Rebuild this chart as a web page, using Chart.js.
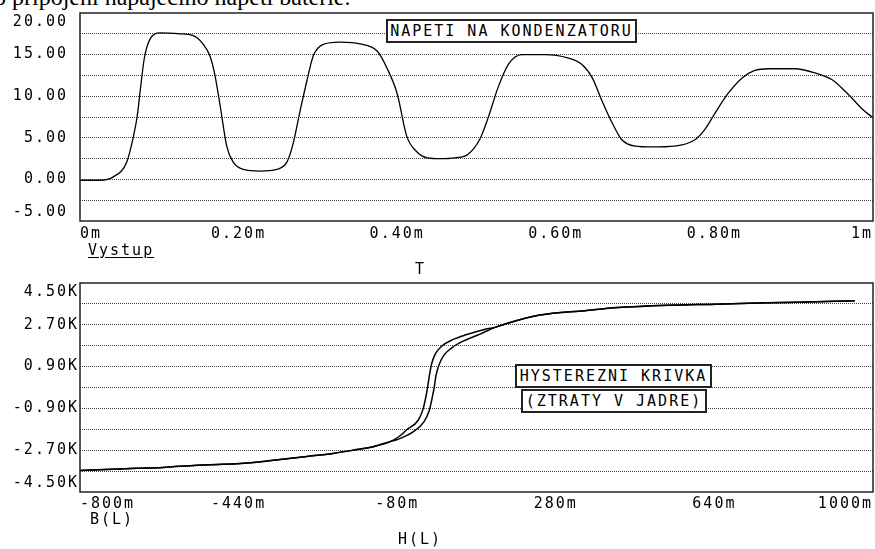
<!DOCTYPE html>
<html lang="cs">
<head>
<meta charset="utf-8">
<title>Napeti na kondenzatoru, hysterezni krivka</title>
<script src="https://cdn.jsdelivr.net/npm/chart.js@4.4.1/dist/chart.umd.min.js"></script>
<style>
    html, body { margin: 0; padding: 0; background: #fff; }
    body {
        width: 875px; height: 549px; position: relative; overflow: hidden;
        font-family: 'DejaVu Sans Mono', monospace; font-size: 15px; color: #000;
    }
    canvas { position: absolute; left: 0; }
    #voltageChart { top: 0; }
    #hystChart { top: 262px; }
    .caption {
        position: absolute; left: -6px; top: -15px; white-space: nowrap;
        font-family: 'Liberation Serif', 'Times New Roman', serif; font-size: 24px; line-height: 24px;
    }
    .note { position: absolute; line-height: 15px; letter-spacing: 2px; white-space: nowrap; }
    .underline { text-decoration: underline; text-underline-offset: 2px; }
    .box {
        position: absolute; box-sizing: border-box; height: 24px; line-height: 20px;
        border: 2px solid #222; background: #fff; text-align: center;
        letter-spacing: 2px; white-space: nowrap;
    }
</style>
</head>
<body>
<div class="caption">o připojení napájecího napětí baterie.</div>

<canvas id="voltageChart" width="875" height="262"></canvas>
<canvas id="hystChart" width="875" height="287"></canvas>

<div class="box" style="left:386px; top:19px; width:251px;">NAPETI NA KONDENZATORU</div>
<div class="note underline" style="left:88px; top:243px;">Vystup</div>
<div class="note" style="left:415px; top:262px;">T</div>
<div class="box" style="left:515px; top:364px; width:197px;">HYSTEREZNI KRIVKA</div>
<div class="box" style="left:521px; top:389px; width:186px;">(ZTRATY V JADRE)</div>
<div class="note" style="left:90px; top:512px;">B(L)</div>
<div class="note" style="left:398px; top:532px;">H(L)</div>

<script>
// Chart.js configuration and setup
Chart.defaults.font.family = "'DejaVu Sans Mono', monospace";
Chart.defaults.font.size = 15;
Chart.defaults.color = '#000';

// Napeti na kondenzatoru: time in ms, voltage in V
const timeMs = [0, 0.025, 0.042, 0.059, 0.067, 0.072, 0.076, 0.081, 0.088, 0.101,
    0.126, 0.142, 0.155, 0.164, 0.170, 0.177, 0.185, 0.193, 0.206, 0.227,
    0.248, 0.261, 0.269, 0.277, 0.286, 0.294, 0.306, 0.328, 0.353, 0.375,
    0.387, 0.400, 0.412, 0.425, 0.438, 0.454, 0.473, 0.489, 0.504, 0.515,
    0.527, 0.540, 0.557, 0.586, 0.615, 0.633, 0.646, 0.658, 0.671, 0.683,
    0.700, 0.721, 0.750, 0.776, 0.788, 0.801, 0.817, 0.835, 0.851, 0.868,
    0.902, 0.927, 0.948, 0.968, 0.986, 1.0];
const voltage = [-0.1, -0.1, 0.3, 2.1, 5.0, 7.5, 10.7, 14.5, 16.8, 17.6,
    17.5, 17.3, 16.3, 14.8, 12.6, 8.7, 4.0, 2.1, 1.2, 1.0,
    1.2, 2.1, 4.4, 8.0, 11.8, 14.8, 16.2, 16.5, 16.3, 15.4,
    13.4, 10.3, 5.2, 3.3, 2.6, 2.5, 2.6, 3.0, 4.8, 7.5,
    11.0, 13.8, 15.0, 15.0, 14.6, 13.8, 12.2, 9.5, 6.8, 4.8,
    4.0, 3.9, 4.0, 4.8, 6.0, 8.0, 10.3, 12.2, 13.1, 13.3,
    13.3, 12.8, 12.0, 10.3, 8.5, 7.4];

// Hysterezni krivka: H(L) in m, B(L) in K
const hLower = [-800, -725, -671, -612, -534, -475, -407, -346, -285, -226, -171, -135, -96];
const bLower = [-3.57, -3.52, -3.48, -3.44, -3.35, -3.31, -3.23, -3.10, -2.97, -2.84, -2.67, -2.55, -2.33];
const hLeftBranch = [-75, -59, -32, -21, -15, -11, -7, -2, 6, 21, 47, 78, 116];
const bLeftBranch = [-2.10, -1.83, -1.40, -0.91, -0.41, 0.01, 0.51, 1.01, 1.43, 1.78, 2.07, 2.28, 2.49];
const hRightBranch = [-81, -43, -19, -7, -1, 4, 8, 14, 25, 44, 70, 108];
const bRightBranch = [-2.25, -1.90, -1.47, -0.98, -0.48, 0.01, 0.51, 0.93, 1.36, 1.71, 2.00, 2.30];
const hUpper = [142, 169, 244, 346, 421, 535, 646, 762, 914, 959];
const bUpper = [2.59, 2.76, 3.12, 3.31, 3.44, 3.54, 3.59, 3.65, 3.71, 3.74];

// Tick labels
const timeTicks = [0, 0.2, 0.4, 0.6, 0.8, 1];
const timeLabels = ['0m', '0.20m', '0.40m', '0.60m', '0.80m', '1m'];
const voltageTicks = [20, 15, 10, 5, 0, -5];
const voltageLabels = ['20.00', '15.00', '10.00', '5.00', '0.00', '-5.00'];
const fieldTicks = [-800, -440, -80, 280, 640, 1000];
const fieldLabels = ['-800m', '-440m', '-80m', '280m', '640m', '1000m'];
const fluxTicks = [4.5, 2.7, 0.9, -0.9, -2.7, -4.5];
const fluxLabels = ['4.50K', '2.70K', '0.90K', '-0.90K', '-2.70K', '-4.50K'];

function toPoints(xs, ys) {
    return xs.map((x, i) => ({ x: x, y: ys[i] }));
}

function labelFor(value, ticks, labels) {
    const i = ticks.findIndex(t => Math.abs(t - value) < 1e-6);
    return i >= 0 ? labels[i] : '';
}

// Letter spacing for the plotter-like text (canvas state is reset on resize)
const letterSpacing = {
    id: 'letterSpacing',
    beforeUpdate(chart) { chart.ctx.letterSpacing = '2px'; },
    beforeDraw(chart) { chart.ctx.letterSpacing = '2px'; }
};

// Frame around the plot area
const frameBox = {
    id: 'frameBox',
    afterDraw(chart) {
        const { ctx, chartArea: a } = chart;
        ctx.save();
        ctx.strokeStyle = '#222';
        ctx.lineWidth = 1.5;
        ctx.strokeRect(a.left, a.top, a.right - a.left, a.bottom - a.top);
        ctx.restore();
    }
};

function xAxis(min, max, step, ticks, labels, height, pad) {
    return {
        type: 'linear', min: min, max: max,
        afterFit: s => { s.height = height; },
        grid: { display: false },
        border: { display: false },
        ticks: {
            stepSize: step, autoSkip: false, maxRotation: 0, align: 'inner', padding: pad,
            callback: v => labelFor(v, ticks, labels)
        }
    };
}

function yAxis(min, max, step, ticks, labels, pad) {
    return {
        type: 'linear', min: min, max: max,
        afterFit: s => {
            s.width = 80;
            s.paddingTop = 0;
            s.paddingBottom = 0;
        },
        grid: {
            drawTicks: false,
            lineWidth: 1,
            color: c => (c.tick && (Math.abs(c.tick.value - min) < 1e-6 || Math.abs(c.tick.value - max) < 1e-6))
                ? 'rgba(0,0,0,0)' : '#444'
        },
        border: { display: false, dash: [1, 1] },
        ticks: {
            stepSize: step, autoSkip: false, padding: pad,
            callback: v => {
                const text = labelFor(v, ticks, labels);
                if (Math.abs(v - max) < 1e-6) return ['', text];
                if (Math.abs(v - min) < 1e-6) return [text, ''];
                return text;
            }
        }
    };
}

// Common chart options
const commonOptions = {
    responsive: false,
    animation: false,
    plugins: { legend: { display: false }, tooltip: { enabled: false } },
    elements: { point: { radius: 0 } }
};

// Create Voltage Chart
function createVoltageChart() {
    const ctx = document.getElementById('voltageChart').getContext('2d');
    new Chart(ctx, {
        type: 'line',
        data: {
            datasets: [{
                data: toPoints(timeMs, voltage),
                borderColor: '#000',
                borderWidth: 1.3,
                cubicInterpolationMode: 'monotone'
            }]
        },
        options: {
            ...commonOptions,
            layout: { padding: { top: 13, right: 2, left: 0, bottom: 0 } },
            scales: {
                x: xAxis(0, 1, 0.2, timeTicks, timeLabels, 41, -4),
                y: yAxis(-5, 20, 2.5, voltageTicks, voltageLabels, 12)
            }
        },
        plugins: [letterSpacing, frameBox]
    });
}

// Create Hysteresis Chart
function createHysteresisChart() {
    const ctx = document.getElementById('hystChart').getContext('2d');
    const branch = (h, b) => ({
        data: toPoints(hLower.concat(h, hUpper), bLower.concat(b, bUpper)),
        borderColor: '#000',
        borderWidth: 1.5,
        cubicInterpolationMode: 'monotone'
    });
    new Chart(ctx, {
        type: 'line',
        data: {
            datasets: [branch(hLeftBranch, bLeftBranch), branch(hRightBranch, bRightBranch)]
        },
        options: {
            ...commonOptions,
            layout: { padding: { top: 21, right: 2, left: 0, bottom: 0 } },
            scales: {
                x: xAxis(-800, 1000, 360, fieldTicks, fieldLabels, 57, -5),
                y: yAxis(-4.5, 4.5, 0.9, fluxTicks, fluxLabels, 1)
            }
        },
        plugins: [letterSpacing, frameBox]
    });
}

// Initialize everything when the page loads
document.addEventListener('DOMContentLoaded', () => {
    createVoltageChart();
    createHysteresisChart();
});
</script>
</body>
</html>
